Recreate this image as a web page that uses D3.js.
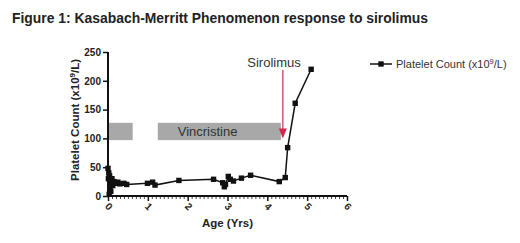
<!DOCTYPE html>
<html><head><meta charset="utf-8">
<script src="https://cdn.jsdelivr.net/npm/d3@7"></script>
<style>
body{margin:0;background:#fff;}
text{font-family:"Liberation Sans",Arial,sans-serif;}
</style></head>
<body><svg id="c" width="520" height="243"></svg>
<script>
const titleText = "Figure 1: Kasabach-Merritt Phenomenon response to sirolimus";
const ageYrs = [0, 0.01, 0.02, 0.03, 0.04, 0.05, 0.06, 0.07, 0.08, 0.1, 0.12, 0.15, 0.2, 0.25, 0.3, 0.4, 0.47, 0.99, 1.12, 1.18, 1.78, 2.65, 2.88, 2.92, 2.95, 3.02, 3.07, 3.15, 3.35, 3.58, 4.3, 4.45, 4.51, 4.70, 5.10];
const platelets = [48, 30, 40, 3, 35, 12, 28, 8, 20, 30, 18, 25, 22, 24, 21, 22, 20, 22, 24, 19, 27, 29, 23, 16, 20, 34, 29, 26, 31, 36, 25, 32, 84, 161, 220];
const barStart = [0, 1.25];
const barEnd = [0.62, 4.34];
const barLow = 97, barHigh = 127;
const barLabels = ["", "Vincristine"];
const barLabelAge = [0, 2.5];
const sirolimusAge = 4.39;
const xTicks = [0, 1, 2, 3, 4, 5, 6];
const yTicks = [0, 50, 100, 150, 200, 250];

const svg = d3.select("#c");
const x = d3.scaleLinear().domain([0, 6]).range([108, 347]);
const y = d3.scaleLinear().domain([0, 250]).range([196, 52]);

svg.append("text").attr("x", 12).attr("y", 23).attr("font-size", 13.9).attr("font-weight", "bold").attr("fill", "#222").text(titleText);

// bars
barStart.forEach((s, i) => {
  svg.append("rect").attr("x", x(s)).attr("y", y(barHigh)).attr("width", x(barEnd[i]) - x(s)).attr("height", y(barLow) - y(barHigh)).attr("fill", "#a8a8a8");
  if (barLabels[i]) svg.append("text").attr("x", x(barLabelAge[i])).attr("y", y((barLow + barHigh) / 2) + 5).attr("text-anchor", "middle").attr("font-size", 13).attr("fill", "#333").text(barLabels[i]);
});

// axes
const yAxis = d3.axisLeft(y).tickValues(yTicks).tickSize(5).tickPadding(2);
const gy = svg.append("g").attr("transform", `translate(${x(0)},0)`).call(yAxis);
gy.select(".domain").attr("stroke", "#111").attr("stroke-width", 2).attr("d", `M0,${y(0)}V${y(250)}`);
gy.selectAll(".tick line").attr("stroke", "#111").attr("stroke-width", 1.5);
gy.selectAll(".tick text").attr("font-size", 10).attr("font-weight", "bold").attr("fill", "#222").attr("font-family", "Liberation Sans, Arial, sans-serif");

const minor = d3.range(0, 60.5, 1).map(d => d / 10).filter(d => Math.abs(d - Math.round(d)) > 1e-6);
const gxm = svg.append("g").attr("transform", `translate(0,${y(0)})`).call(d3.axisBottom(x).tickValues(minor).tickSize(3).tickFormat(""));
gxm.select(".domain").remove();
gxm.selectAll(".tick line").attr("stroke", "#444").attr("stroke-width", 1);
const gx = svg.append("g").attr("transform", `translate(0,${y(0)})`).call(d3.axisBottom(x).tickValues(xTicks).tickSize(5).tickFormat(d3.format("d")));
gx.select(".domain").attr("stroke", "#111").attr("stroke-width", 2).attr("d", `M${x(0)},0H${x(6)}`);
gx.selectAll(".tick line").attr("stroke", "#111").attr("stroke-width", 1.5);
gx.selectAll(".tick text").attr("font-size", 10).attr("font-weight", "bold").attr("fill", "#222").attr("font-family", "Liberation Sans, Arial, sans-serif")
  .attr("text-anchor", "middle").attr("dy", 0).attr("y", 0)
  .attr("transform", "translate(-2,13) rotate(45)");

svg.append("text").attr("x", x(3)).attr("y", 227).attr("text-anchor", "middle").attr("font-size", 11.5).attr("font-weight", "bold").attr("fill", "#222").text("Age (Yrs)");

const yl = svg.append("text").attr("transform", `translate(79,${y(132)}) rotate(-90)`).attr("text-anchor", "middle").attr("font-size", 11.5).attr("font-weight", "bold").attr("fill", "#222");
yl.append("tspan").text("Platelet Count (x10");
yl.append("tspan").attr("dy", -4).attr("font-size", 8).text("9");
yl.append("tspan").attr("dy", 4).text("/L)");

// line
const pts = ageYrs.map((a, i) => [a, platelets[i]]);
svg.append("path").datum(pts).attr("fill", "none").attr("stroke", "#111").attr("stroke-width", 1.5)
  .attr("d", d3.line().x(d => x(d[0])).y(d => y(d[1])));
svg.selectAll("rect.pt").data(pts).join("rect").attr("class", "pt")
  .attr("x", d => x(d[0]) - 2.7).attr("y", d => y(d[1]) - 2.7).attr("width", 5.4).attr("height", 5.4).attr("fill", "#111");

// sirolimus arrow
const ax = x(sirolimusAge);
svg.append("line").attr("x1", ax).attr("x2", ax).attr("y1", 70).attr("y2", y(100) - 8).attr("stroke", "#d4264f").attr("stroke-width", 1.2);
svg.append("path").attr("d", `M${ax - 4},${y(100) - 10}L${ax + 4},${y(100) - 10}L${ax},${y(100)}Z`).attr("fill", "#d4264f");
svg.append("text").attr("x", 274).attr("y", 67).attr("text-anchor", "middle").attr("font-size", 13).attr("fill", "#333").text("Sirolimus");

// legend
svg.append("line").attr("x1", 370).attr("x2", 392).attr("y1", 64).attr("y2", 64).attr("stroke", "#111").attr("stroke-width", 1.5);
svg.append("rect").attr("x", 381 - 2.7).attr("y", 64 - 2.7).attr("width", 5.4).attr("height", 5.4).attr("fill", "#111");
const lt = svg.append("text").attr("x", 396).attr("y", 68).attr("font-size", 11).attr("fill", "#333");
lt.append("tspan").text("Platelet Count (x10");
lt.append("tspan").attr("dy", -4).attr("font-size", 7.5).text("9");
lt.append("tspan").attr("dy", 4).text("/L)");
</script></body></html>
